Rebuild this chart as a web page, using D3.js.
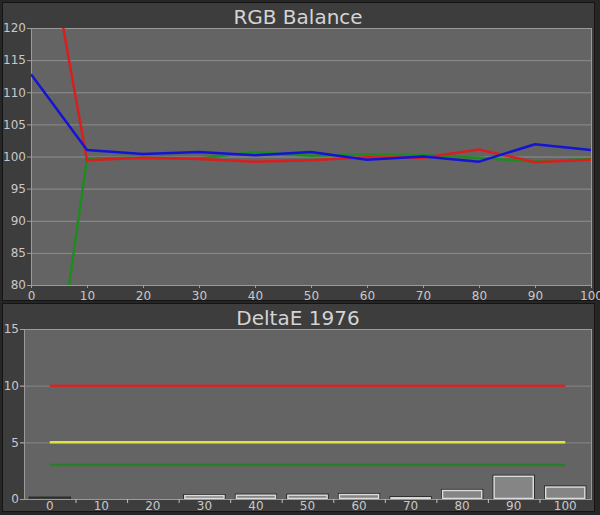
<!DOCTYPE html>
<html><head><meta charset="utf-8">
<script src="https://cdn.jsdelivr.net/npm/d3@7"></script>
<style>html,body{margin:0;padding:0;background:#262626;}svg{display:block;}</style>
</head><body>
<script>
// ---- data ----
const rgbX = [0, 10, 20, 30, 40, 50, 60, 70, 80, 90, 100];
const redVals   = [148, 99.4, 99.8, 99.6, 99.2, 99.4, 99.9, 99.8, 101.1, 99.1, 99.5];
const greenVals = [38, 99.7, 99.8, 99.7, 100.7, 100.1, 100.3, 100.2, 99.8, 99.2, 99.6];
const blueVals  = [112.8, 101.0, 100.4, 100.7, 100.2, 100.7, 99.5, 100.0, 99.2, 101.9, 101.0];
const rgbYTicks = [80, 85, 90, 95, 100, 105, 110, 115, 120];
const rgbXTicks = [0, 10, 20, 30, 40, 50, 60, 70, 80, 90, 100];

const deCats = ["0", "10", "20", "30", "40", "50", "60", "70", "80", "90", "100"];
const deVals = [0.12, 0, 0, 0.35, 0.38, 0.38, 0.44, 0.15, 0.8, 2.05, 1.1];
const deYTicks = [0, 5, 10, 15];
const deThresholds = [10, 5, 3];
const rgbTitle = "RGB Balance";
const deTitle = "DeltaE 1976";

// ---- drawing ----
const W = 600, H = 515;
const svg = d3.select("body").append("svg").attr("width", W).attr("height", H);
const font = "DejaVu Sans, Verdana, sans-serif";

svg.append("rect").attr("width", W).attr("height", H).attr("fill", "#262626");

function panel(y0, h) {
  svg.append("rect").attr("x", 2.5).attr("y", y0 + 0.5).attr("width", 592).attr("height", h)
    .attr("fill", "#3d3d3d").attr("stroke", "#151515").attr("stroke-width", 1);
}
panel(2, 298);
panel(303, 208);

// ===== top chart =====
const x1 = d3.scaleLinear().domain([0, 100]).range([31, 591]);
const y1 = d3.scaleLinear().domain([80, 120]).range([285, 28]);

svg.append("text").attr("x", 298).attr("y", 24).attr("text-anchor", "middle")
  .attr("font-family", font).attr("font-size", 20).attr("fill", "#d4d4d4").text(rgbTitle);

svg.append("rect").attr("x", x1(0)).attr("y", y1(120)).attr("width", x1(100) - x1(0))
  .attr("height", y1(80) - y1(120)).attr("fill", "#646464");

svg.append("g").selectAll("line").data(rgbYTicks).enter().append("line")
  .attr("x1", x1(0)).attr("x2", x1(100)).attr("y1", d => y1(d) + 0.5).attr("y2", d => y1(d) + 0.5)
  .attr("stroke", "#8e8e8e").attr("stroke-width", 1);

svg.append("rect").attr("x", x1(0) + 0.5).attr("y", y1(120) + 0.5).attr("width", x1(100) - x1(0))
  .attr("height", y1(80) - y1(120)).attr("fill", "none").attr("stroke", "#9a9a9a");

const ya1 = svg.append("g").attr("transform", `translate(${x1(0)},0)`)
  .call(d3.axisLeft(y1).tickValues(rgbYTicks).tickSize(4).tickPadding(1));
const xa1 = svg.append("g").attr("transform", `translate(0,${y1(80)})`)
  .call(d3.axisBottom(x1).tickValues(rgbXTicks).tickSize(3).tickPadding(3));
[ya1, xa1].forEach(a => {
  a.select(".domain").remove();
  a.selectAll(".tick line").attr("stroke", "#a0a0a0");
  a.selectAll(".tick text").attr("fill", "#c8c8c8").attr("font-family", font).attr("font-size", 12);
});

svg.append("clipPath").attr("id", "clip1").append("rect")
  .attr("x", x1(0)).attr("y", y1(120)).attr("width", x1(100) - x1(0)).attr("height", y1(80) - y1(120));

const line1 = d3.line().x((d, i) => x1(rgbX[i])).y(d => y1(d));
const series = [
  {vals: greenVals, color: "#1f8a1f"},
  {vals: redVals, color: "#d81e1e"},
  {vals: blueVals, color: "#1414d6"}
];
svg.append("g").attr("clip-path", "url(#clip1)").selectAll("path").data(series).enter().append("path")
  .attr("d", d => line1(d.vals)).attr("fill", "none").attr("stroke", d => d.color)
  .attr("stroke-width", 2.5).attr("stroke-linejoin", "round");

// ===== bottom chart =====
const x2 = d3.scaleBand().domain(deCats).range([24, 591]).paddingInner(0.22).paddingOuter(0.11);
const xb = d3.scaleBand().domain(deCats).range([24, 591]);
const y2 = d3.scaleLinear().domain([0, 15]).range([499, 329]);

svg.append("text").attr("x", 298).attr("y", 325).attr("text-anchor", "middle")
  .attr("font-family", font).attr("font-size", 20).attr("fill", "#d4d4d4").text(deTitle);

svg.append("rect").attr("x", 24).attr("y", y2(15)).attr("width", 591 - 24)
  .attr("height", y2(0) - y2(15)).attr("fill", "#646464");

svg.selectAll("line.g2").data(deYTicks.filter(d => d > 0 && d < 15)).enter().append("line")
  .attr("x1", 20).attr("x2", 591).attr("y1", d => y2(d) + 0.5).attr("y2", d => y2(d) + 0.5)
  .attr("stroke", "#858585").attr("stroke-width", 1);

svg.append("rect").attr("x", 24.5).attr("y", y2(15) + 0.5).attr("width", 591 - 24)
  .attr("height", y2(0) - y2(15)).attr("fill", "none").attr("stroke", "#9a9a9a");

const ya2 = svg.append("g").attr("transform", `translate(24,0)`)
  .call(d3.axisLeft(y2).tickValues(deYTicks).tickSize(4).tickPadding(1));
ya2.select(".domain").remove();
ya2.selectAll(".tick line").attr("stroke", "#a0a0a0");
ya2.selectAll(".tick text").attr("fill", "#c8c8c8").attr("font-family", font).attr("font-size", 12);

const thrColors = ["#cc2a2a", "#e2e23c", "#2a7d2a"];
svg.selectAll("line.thr").data(deThresholds).enter().append("line")
  .attr("x1", x2("0") + x2.bandwidth() / 2).attr("x2", x2("100") + x2.bandwidth() / 2)
  .attr("y1", d => y2(d)).attr("y2", d => y2(d))
  .attr("stroke", (d, i) => thrColors[i]).attr("stroke-width", 2.5);

const barData = deVals.map((v, i) => ({v, c: deCats[i]})).filter(d => d.v > 0);
svg.selectAll("rect.barsh").data(barData).enter().append("rect")
  .attr("x", d => x2(d.c) - 1).attr("y", d => y2(d.v) - 1)
  .attr("width", x2.bandwidth() + 2).attr("height", d => y2(0) - y2(d.v) + 1)
  .attr("fill", "#1a1a1a");
svg.selectAll("rect.bar").data(barData).enter().append("rect")
  .attr("x", d => x2(d.c) + 0.5).attr("y", d => y2(d.v) + 0.5)
  .attr("width", x2.bandwidth() - 1).attr("height", d => Math.max(0, y2(0) - y2(d.v) - 1))
  .attr("fill", d => d.c === "0" ? "#4a4a4a" : "#858585")
  .attr("stroke", d => d.c === "0" ? "#3a3a3a" : "#dcdcdc").attr("stroke-width", 1.5);

svg.append("line").attr("x1", 24).attr("x2", 591).attr("y1", y2(0) + 0.5).attr("y2", y2(0) + 0.5)
  .attr("stroke", "#9a9a9a");
svg.selectAll("line.xt").data(deCats.slice(1)).enter().append("line")
  .attr("x1", d => xb(d) + 0.5).attr("x2", d => xb(d) + 0.5)
  .attr("y1", y2(0)).attr("y2", y2(0) + 4).attr("stroke", "#c0c0c0");
svg.selectAll("text.xl").data(deCats).enter().append("text")
  .attr("x", d => x2(d) + x2.bandwidth() / 2).attr("y", 510).attr("text-anchor", "middle")
  .attr("font-family", font).attr("font-size", 12).attr("fill", "#c8c8c8").text(d => d);
</script>
</body></html>
